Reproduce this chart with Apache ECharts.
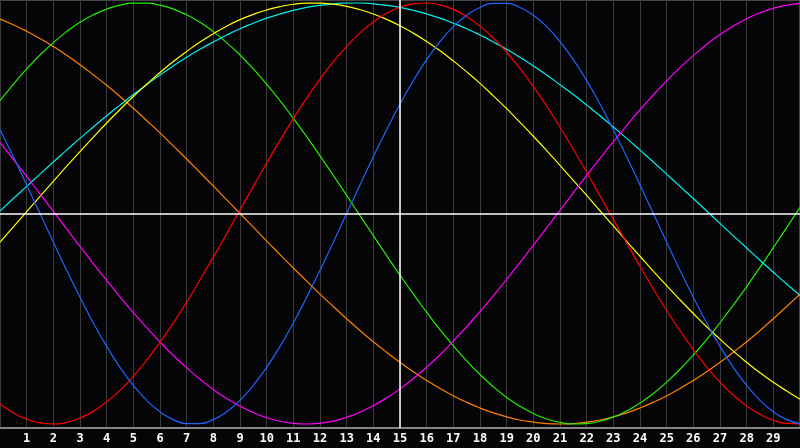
<!DOCTYPE html>
<html>
<head>
<meta charset="utf-8">
<script src="https://cdn.jsdelivr.net/npm/echarts@6/dist/echarts.min.js"></script>
<style>
html,body{margin:0;padding:0;background:#050508;}
#chart{width:800px;height:448px;}
</style>
</head>
<body>
<div id="chart"></div>
<script>
// x positions of the samples (0 .. 30, every half unit)
const xs = [0,0.5,1,1.5,2,2.5,3,3.5,4,4.5,5,5.5,6,6.5,7,7.5,8,8.5,9,9.5,10,10.5,11,11.5,12,12.5,13,13.5,14,14.5,15,15.5,16,16.5,17,17.5,18,18.5,19,19.5,20,20.5,21,21.5,22,22.5,23,23.5,24,24.5,25,25.5,26,26.5,27,27.5,28,28.5,29,29.5,30];

// series values
const red     = [-0.905,-0.947,-0.977,-0.995,-1.000,-0.992,-0.972,-0.940,-0.895,-0.840,-0.773,-0.697,-0.612,-0.520,-0.421,-0.315,-0.207,-0.096,0.017,0.129,0.240,0.347,0.451,0.548,0.638,0.721,0.794,0.858,0.910,0.951,0.980,0.996,1.000,0.991,0.970,0.936,0.890,0.834,0.766,0.689,0.603,0.510,0.410,0.305,0.196,0.084,-0.028,-0.140,-0.251,-0.358,-0.461,-0.557,-0.647,-0.729,-0.801,-0.863,-0.914,-0.954,-0.982,-0.997,-0.999];
const green   = [0.536,0.614,0.687,0.753,0.812,0.864,0.909,0.944,0.971,0.990,0.999,0.999,0.990,0.971,0.944,0.909,0.864,0.812,0.753,0.687,0.614,0.536,0.452,0.365,0.274,0.181,0.086,-0.010,-0.105,-0.200,-0.293,-0.383,-0.469,-0.552,-0.629,-0.700,-0.765,-0.823,-0.874,-0.916,-0.950,-0.976,-0.992,-1.000,-0.998,-0.987,-0.967,-0.938,-0.900,-0.855,-0.801,-0.740,-0.672,-0.599,-0.519,-0.435,-0.347,-0.256,-0.162,-0.067,0.029];
const orange  = [0.924,0.897,0.866,0.831,0.793,0.752,0.707,0.659,0.609,0.556,0.500,0.442,0.383,0.321,0.259,0.195,0.131,0.065,0.000,-0.065,-0.131,-0.195,-0.259,-0.321,-0.383,-0.442,-0.500,-0.556,-0.609,-0.659,-0.707,-0.752,-0.793,-0.831,-0.866,-0.897,-0.924,-0.947,-0.966,-0.981,-0.991,-0.998,-1.000,-0.998,-0.991,-0.981,-0.966,-0.947,-0.924,-0.897,-0.866,-0.831,-0.793,-0.752,-0.707,-0.659,-0.609,-0.556,-0.500,-0.442,-0.383];
const yellow  = [-0.136,-0.064,0.009,0.081,0.153,0.225,0.294,0.363,0.430,0.494,0.556,0.614,0.670,0.722,0.770,0.815,0.854,0.890,0.921,0.946,0.967,0.983,0.994,0.999,0.999,0.994,0.984,0.968,0.948,0.922,0.892,0.857,0.817,0.773,0.725,0.673,0.618,0.559,0.498,0.433,0.367,0.299,0.229,0.157,0.086,0.013,-0.059,-0.132,-0.203,-0.274,-0.343,-0.410,-0.475,-0.538,-0.597,-0.654,-0.707,-0.757,-0.802,-0.843,-0.882];
const cyan    = [0.012,0.071,0.129,0.187,0.245,0.301,0.357,0.411,0.464,0.515,0.565,0.612,0.658,0.701,0.742,0.780,0.815,0.848,0.878,0.904,0.928,0.948,0.965,0.979,0.989,0.996,1.000,1.000,0.996,0.989,0.979,0.965,0.948,0.928,0.904,0.878,0.848,0.815,0.780,0.742,0.701,0.658,0.612,0.565,0.515,0.464,0.411,0.357,0.301,0.245,0.187,0.129,0.071,0.012,-0.047,-0.106,-0.164,-0.222,-0.279,-0.335,-0.389];
const blue    = [0.398,0.270,0.136,0.000,-0.136,-0.270,-0.398,-0.520,-0.631,-0.731,-0.817,-0.888,-0.942,-0.979,-0.998,-0.998,-0.979,-0.942,-0.888,-0.817,-0.731,-0.631,-0.520,-0.398,-0.270,-0.136,0.000,0.136,0.270,0.398,0.520,0.631,0.731,0.817,0.888,0.942,0.979,0.998,0.998,0.979,0.942,0.888,0.817,0.731,0.631,0.520,0.398,0.270,0.136,0.000,-0.136,-0.270,-0.398,-0.520,-0.631,-0.731,-0.817,-0.888,-0.942,-0.979,-0.998];
const magenta = [0.337,0.257,0.176,0.093,0.010,-0.073,-0.156,-0.238,-0.318,-0.396,-0.471,-0.542,-0.610,-0.674,-0.733,-0.787,-0.836,-0.879,-0.915,-0.946,-0.970,-0.987,-0.997,-1.000,-0.996,-0.986,-0.968,-0.944,-0.913,-0.876,-0.833,-0.784,-0.730,-0.671,-0.606,-0.538,-0.466,-0.391,-0.313,-0.233,-0.151,-0.068,0.015,0.098,0.181,0.262,0.341,0.418,0.493,0.563,0.630,0.693,0.750,0.803,0.850,0.891,0.925,0.954,0.975,0.990,0.998];

const seriesDefs = [
  {name:'orange',  values: orange,  color:'#ff8000'},
  {name:'green',   values: green,   color:'#22ee00'},
  {name:'cyan',    values: cyan,    color:'#00f0f0'},
  {name:'yellow',  values: yellow,  color:'#ffff00'},
  {name:'magenta', values: magenta, color:'#ff00ff'},
  {name:'red',     values: red,     color:'#ff0000'},
  {name:'blue',    values: blue,    color:'#1e64ff'}
];

const series = seriesDefs.map(function(d){
  return {
    name: d.name,
    type: 'line',
    smooth: 0.5,
    symbol: 'none',
    data: xs.map(function(x,i){ return [x, d.values[i]]; }),
    lineStyle: {color: d.color, width: 1.2},
    itemStyle: {color: d.color},
    z: 3
  };
});

series.push({
  type: 'line',
  data: [],
  symbol: 'none',
  markLine: {
    silent: true,
    symbol: ['none','none'],
    label: {show:false},
    lineStyle: {color:'#ffffff', width:1.5, type:'solid'},
    data: [{xAxis: 15}, {yAxis: 0}]
  },
  z: 2
});

const chart = echarts.init(document.getElementById('chart'), null, {renderer:'canvas'});
chart.setOption({
  animation: false,
  backgroundColor: '#050508',
  grid: {
    left: 0, right: 0, top: 0, bottom: 20,
    show: true,
    borderColor: '#8a8a8a',
    borderWidth: 1,
    backgroundColor: 'transparent'
  },
  xAxis: {
    type: 'value',
    min: 0, max: 30, interval: 1,
    axisLine: {show: true, onZero: false, lineStyle: {color:'#9a9a9a', width: 1.5}},
    axisTick: {show: false},
    splitLine: {show: true, lineStyle: {color:'#3a3a3a', width: 1}},
    axisLabel: {
      show: true,
      showMinLabel: false,
      showMaxLabel: false,
      color: '#ffffff',
      fontWeight: 'bold',
      fontSize: 12,
      fontFamily: 'DejaVu Sans Mono',
      margin: 5
    }
  },
  yAxis: {
    type: 'value',
    min: -1.019, max: 1.0143,
    show: false,
    splitLine: {show: false}
  },
  series: series
});
</script>
</body>
</html>
